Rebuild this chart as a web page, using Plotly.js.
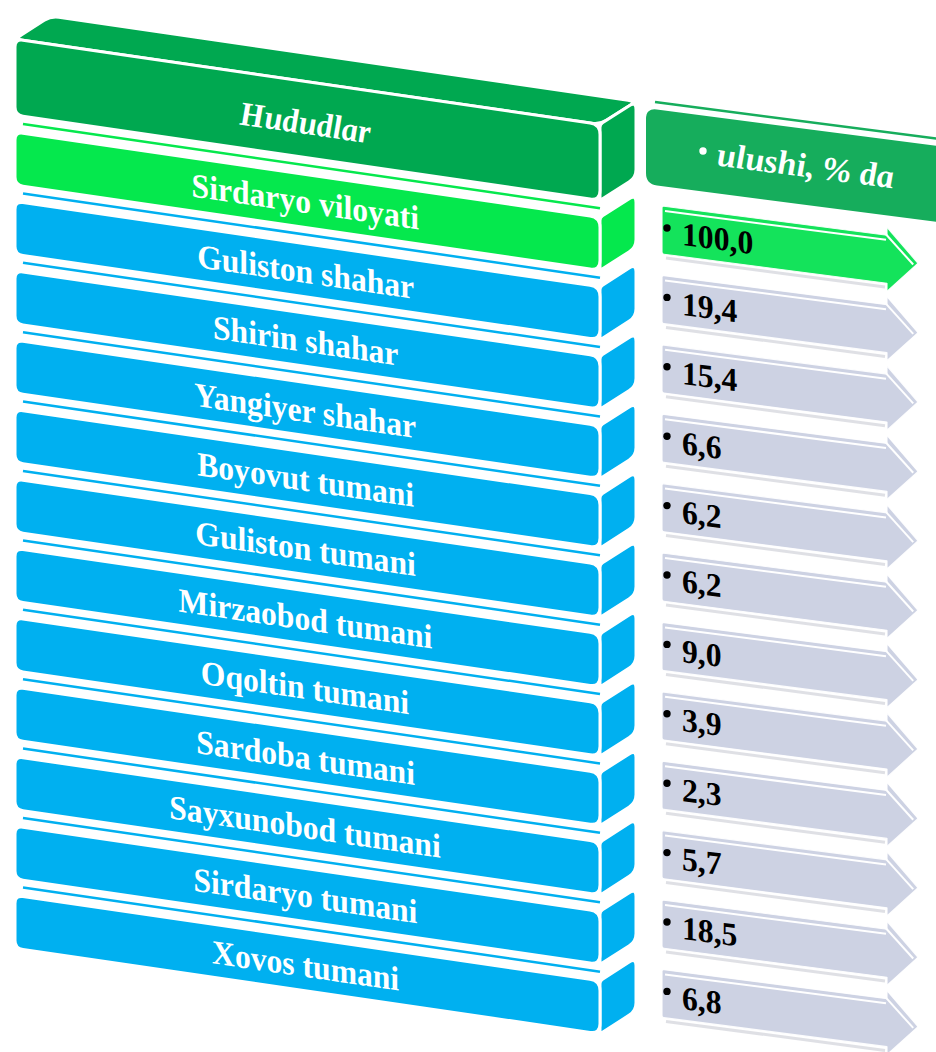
<!DOCTYPE html>
<html><head><meta charset="utf-8">
<script src="https://cdn.plot.ly/plotly-3.0.1.min.js"></script>
<style>html,body{margin:0;padding:0;background:#fff;overflow:hidden}#chart{width:936px;height:1052px}</style>
</head><body><div id="chart"></div>
<script>
// ---------- data ----------
const headerLabel = 'Hududlar';
const valueHeader = 'ulushi, % da';
const regions = ['Sirdaryo viloyati','Guliston shahar','Shirin shahar','Yangiyer shahar','Boyovut tumani','Guliston tumani','Mirzaobod tumani','Oqoltin tumani','Sardoba tumani','Sayxunobod tumani','Sirdaryo tumani','Xovos tumani'];
const shares = [100.0, 19.4, 15.4, 6.6, 6.2, 6.2, 9.0, 3.9, 2.3, 5.7, 18.5, 6.8];
const valueLabels = shares.map(v => v.toFixed(1).replace('.', ','));

// ---------- geometry (row-index scale) ----------
const STEP = 69.4;               // px per row
const FIRST = 132;               // px top of row 1
const Y0 = 1 - FIRST / STEP;
const yd = p => Y0 + p / STEP;   // px -> row units
const rowTop = k => FIRST + (k - 1) * STEP;

const C = {
  head: '#00A850', total: '#05E84D', blue: '#00B0F0',
  rhead: '#16AD5C', arrow: '#CDD2E3', arrowTotal: '#14E35B'
};

const LX = 15, RX = 600, SL = 0.146, H = 53, DX = 36, DY = -23;
const AL = 662, ABR = 887, ATIP = 918, AH = 48, S2 = 0.13, AOFF = 74;
const SKEW_L = Math.atan(SL) * 180 / Math.PI;
const SKEW_R = Math.atan(S2) * 180 / Math.PI;

function P(p) { return p[0].toFixed(2) + ',' + yd(p[1]).toFixed(4); }
function roundPath(pts, r) {
  const n = pts.length; let d = '';
  for (let i = 0; i < n; i++) {
    const p0 = pts[(i - 1 + n) % n], p1 = pts[i], p2 = pts[(i + 1) % n];
    const ri = Array.isArray(r) ? r[i] : r;
    const v1 = [p0[0] - p1[0], p0[1] - p1[1]], v2 = [p2[0] - p1[0], p2[1] - p1[1]];
    const l1 = Math.hypot(v1[0], v1[1]), l2 = Math.hypot(v2[0], v2[1]);
    const a = Math.min(ri, l1 / 2), b = Math.min(ri, l2 / 2);
    const pa = [p1[0] + v1[0] / l1 * a, p1[1] + v1[1] / l1 * a];
    const pb = [p1[0] + v2[0] / l2 * b, p1[1] + v2[1] / l2 * b];
    d += (i === 0 ? 'M' : 'L') + P(pa) + ' Q' + P(p1) + ' ' + P(pb) + ' ';
  }
  return d + 'Z';
}
const shapes = [];
function poly(pts, r, fill, lw, lc) {
  shapes.push({type: 'path', xref: 'x', yref: 'y', path: roundPath(pts, r),
    fillcolor: fill, line: {color: lc || '#ffffff', width: lw === undefined ? 3 : lw}, layer: 'above'});
}
function seg(a, b, color, w) {
  shapes.push({type: 'line', xref: 'x', yref: 'y', x0: a[0], y0: yd(a[1]), x1: b[0], y1: yd(b[1]),
    line: {color: color, width: w}, layer: 'above'});
}
function dot(p, color, r) {
  shapes.push({type: 'circle', xref: 'x', yref: 'y', xsizemode: 'pixel', ysizemode: 'pixel',
    xanchor: p[0], yanchor: yd(p[1]), x0: -r, x1: r, y0: -r, y1: r,
    fillcolor: color, line: {width: 0}, layer: 'above'});
}

function box(T, h, color, withTop) {
  const tr = T + SL * (RX - LX);
  if (withTop) {
    poly([[LX, T], [LX + DX, T + DY], [RX + DX, tr + DY], [RX, tr]], 8, color, 3);
  }
  poly([[RX, tr], [RX + DX, tr + DY], [RX + DX, tr + DY + h], [RX, tr + h]], [3, 8, 8, 3], color, 3);
  poly([[LX, T], [RX, tr], [RX, tr + h], [LX, T + h]], [8, 10, 10, 8], color, 3);
}

const annotations = [];
const skewInfo = [];   // per annotation: [skew angle, x-scale, pivot]
const SERIF = 'Liberation Serif';
const rowFont = {family: SERIF, size: 34, color: '#ffffff'};
const valFont = {family: SERIF, size: 33, color: '#000000'};

for (let k = regions.length; k >= 1; k--) {
  const T = rowTop(k);
  const color = k === 1 ? C.total : C.blue;
  seg([LX + 8, T - 8], [RX, T - 8 + SL * (RX - LX - 8)], color, 2.5);
  box(T, H, color, false);
  const cx = 305;
  annotations.push({x: cx, y: yd(T + SL * (cx - LX) + H / 2 + 1), xref: 'x', yref: 'y',
    text: '<b>' + regions[k - 1] + '</b>', showarrow: false,
    font: rowFont, xanchor: 'center', yanchor: 'middle'});
  skewInfo.push([SKEW_L, 0.93, 'c']);

  // value arrow
  const A = T + AOFF;
  const ac = k === 1 ? C.arrowTotal : C.arrow;
  const bt = A + S2 * (ABR - AL);
  const tipY = A + S2 * (ATIP - AL) + AH / 2;
  // soft shadow under the arrow body
  seg([AL + 4, A + AH + 4], [ABR - 2, bt + AH + 4 - S2 * 2], 'rgba(140,145,160,0.28)', 3);
  poly([[AL, A], [ABR, bt], [ABR, bt - 8], [ATIP, tipY], [ABR, bt + AH + 8], [ABR, bt + AH], [AL, A + AH]],
       [2, 0.01, 1, 1, 1, 0.01, 2], ac, 1.2, 'rgba(255,255,255,0.9)');
  seg([AL + 3, A + 5], [ABR - 1, bt + 5 - S2 * 3], '#ffffff', 2);
  const dxh = ATIP - ABR, dyh = tipY - (bt - 8), lh = Math.hypot(dxh, dyh);
  const nx = -dyh / lh * 5, ny = dxh / lh * 5;
  seg([ABR + nx + 2, bt - 8 + ny + 3], [ATIP + nx - 1, tipY + ny - 2], '#ffffff', 2);
  dot([AL + 5, A + 22], '#000000', 3.7);
  annotations.push({x: AL + 18, y: yd(A + S2 * 18 + AH / 2 + 2), xref: 'x', yref: 'y',
    text: '<b>' + valueLabels[k - 1] + '</b>', showarrow: false,
    font: valFont, xanchor: 'left', yanchor: 'middle'});
  skewInfo.push([SKEW_R, 0.96, 'l']);
}

// header row
const HT = 39, HH = 76;
box(HT, HH, C.head, true);
annotations.push({x: 305, y: yd(HT + SL * (305 - LX) + HH / 2 + 3), xref: 'x', yref: 'y',
  text: '<b><i>' + headerLabel + '</i></b>', showarrow: false,
  font: rowFont, xanchor: 'center', yanchor: 'middle'});
skewInfo.push([SKEW_L, 0.95, 'c']);

// value header
const RL = 645, RT = 107, RH = 78, RR = 948;
seg([RL + 10, RT - 5], [RR, RT - 5 + S2 * (RR - RL - 10)], C.rhead, 2.5);
poly([[RL, RT], [RR, RT + S2 * (RR - RL)], [RR, RT + S2 * (RR - RL) + RH], [RL, RT + RH]], 12, C.rhead, 2);
dot([703, 151], '#ffffff', 3.7);
annotations.push({x: 805, y: yd(RT + S2 * (805 - RL) + RH / 2 - 1), xref: 'x', yref: 'y',
  text: '<b><i>' + valueHeader + '</i></b>', showarrow: false,
  font: {family: SERIF, size: 34, color: '#ffffff'},
  xanchor: 'center', yanchor: 'middle'});
skewInfo.push([SKEW_R, 1.0, 'c']);

const layout = {
  width: 936, height: 1052, margin: {l: 0, r: 0, t: 0, b: 0},
  paper_bgcolor: '#ffffff', plot_bgcolor: '#ffffff', showlegend: false,
  xaxis: {range: [0, 936], visible: false, fixedrange: true},
  yaxis: {range: [yd(1052), yd(0)], visible: false, fixedrange: true},
  shapes: shapes, annotations: annotations
};
Plotly.newPlot('chart', [{x: [], y: [], type: 'scatter', mode: 'markers', hoverinfo: 'skip'}], layout,
  {staticPlot: true, displayModeBar: false}).then(gd => {
  // perspective look: baseline follows the box slope while glyphs stay upright
  gd.querySelectorAll('g.annotation').forEach(g => {
    const idx = +g.getAttribute('data-index');
    const info = skewInfo[idx];
    const t = g.querySelector('text.annotation-text');
    if (!info || !t) return;
    const w = document.createElementNS('http://www.w3.org/2000/svg', 'g');
    t.parentNode.insertBefore(w, t);
    w.appendChild(t);
    const bb = t.getBBox();
    const px = info[2] === 'l' ? bb.x : bb.x + bb.width / 2;
    const py = bb.y + bb.height / 2;
    w.setAttribute('transform', 'translate(' + px + ' ' + py + ') skewY(' + info[0] + ') scale(' + info[1] + ' 1) translate(' + (-px) + ' ' + (-py) + ')');
  });
});
</script></body></html>
